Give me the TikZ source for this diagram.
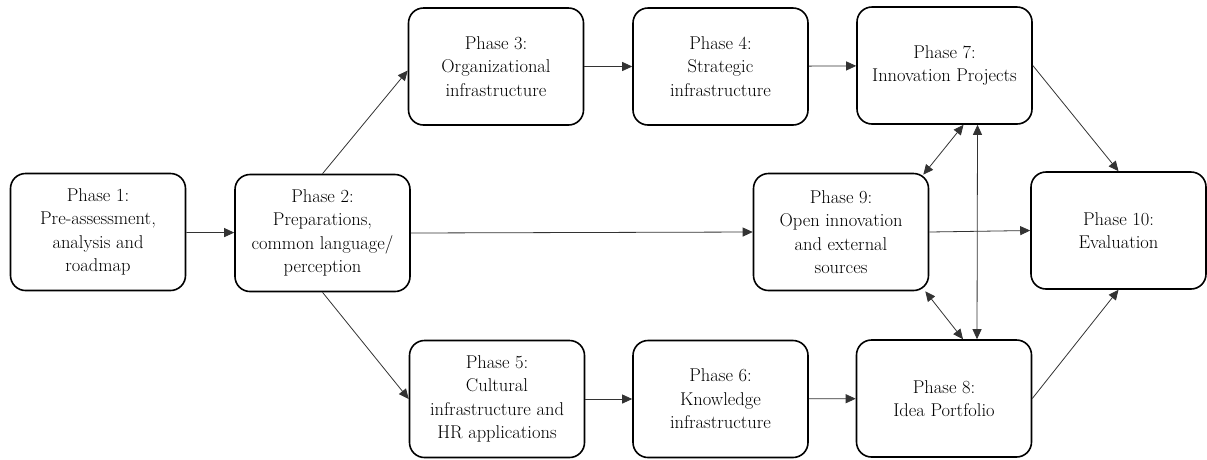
\documentclass[tikz,border=0pt]{standalone}
\usetikzlibrary{arrows.meta,calc}
\begin{document}
\begin{tikzpicture}[x=1pt,y=-1pt,
  phase/.style={draw=black,line width=1.6pt,rounded corners=15pt,fill=white,
    minimum width=175pt,minimum height=117pt,align=center,inner sep=2pt,
    font=\rmfamily\fontsize{18.5}{23.5}\selectfont,text=black},
  conn/.style={line width=0.8pt,draw=black!80,-{Triangle[length=10pt,width=9pt]}},
  bconn/.style={line width=0.8pt,draw=black!80,{Triangle[length=10pt,width=9pt]}-{Triangle[length=10pt,width=9pt]}}]
\useasboundingbox (0,0) rectangle (1207,459);
\node[phase] (P1) at (98,232) {Phase 1:\\Pre-assessment,\\analysis and\\roadmap};
\node[phase] (P2) at (322.5,233) {Phase 2:\\Preparations,\\common language/\\perception};
\node[phase] (P3) at (496,66.5) {Phase 3:\\Organizational\\infrastructure};
\node[phase] (P4) at (720.5,66.5) {Phase 4:\\Strategic\\infrastructure};
\node[phase] (P7) at (944.5,65.5) {Phase 7:\\Innovation Projects};
\node[phase] (P9) at (841,232) {Phase 9:\\Open innovation\\and external\\sources};
\node[phase] (P10) at (1118.5,230.5) {Phase 10:\\Evaluation};
\node[phase] (P5) at (497,399) {Phase 5:\\Cultural\\infrastructure and\\HR applications};
\node[phase] (P6) at (720.5,399) {Phase 6:\\Knowledge\\infrastructure};
\node[phase] (P8) at (944,398.5) {Phase 8:\\Idea Portfolio};
\draw[conn] (P1) -- (P2);
\draw[conn] (P2.north) -- ($(P3.west)+(0,4)$);
\draw[conn] (P2.south) -- (P5.west);
\draw[conn] (P2.east) -- (P9.west);
\draw[conn] (P3) -- (P4);
\draw[conn] (P4) -- (P7);
\draw[conn] (P5) -- (P6);
\draw[conn] (P6) -- (P8);
\draw[conn] (P7.east) -- (P10.north);
\draw[conn] (P8.east) -- (P10.south);
\draw[conn] (P9.east) -- (P10.west);
\draw[bconn] ($(P7.south)+(33,0)$) -- ($(P8.north)+(33,0)$);
\draw[bconn] ($(P9.north east)+(-6,2)$) -- ($(P7.south)+(19,0)$);
\draw[bconn] ($(P9.south east)+(-4,0)$) -- ($(P8.north)+(19,0)$);
\end{tikzpicture}
\end{document}
